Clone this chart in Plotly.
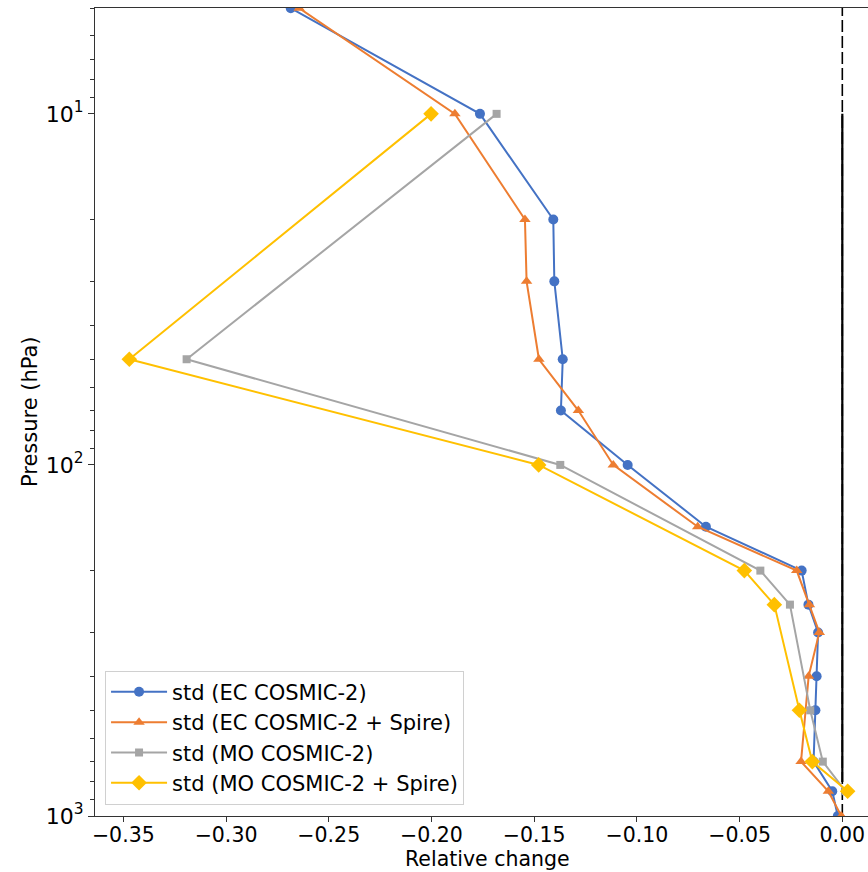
import plotly.graph_objects as go

# Pressure levels (hPa)
levels_ec = [5, 10, 20, 30, 50, 70, 100, 150, 200, 250, 300, 400, 500, 700, 850, 1000]
levels_ec_spire = [5, 10, 20, 30, 50, 70, 100, 150, 200, 250, 300, 400, 700, 850, 1000]
levels_mo = [10, 50, 100, 200, 250, 500, 700, 850]

# Relative change of the standard deviation
ec_c2 = [-0.2685, -0.1764, -0.1407, -0.1402, -0.1361, -0.1370, -0.1045, -0.0664,
         -0.0198, -0.0165, -0.0118, -0.0125, -0.0131, -0.0140, -0.0049, -0.0022]
ec_c2_spire = [-0.2644, -0.1886, -0.1545, -0.1537, -0.1477, -0.1285, -0.1115, -0.0704,
               -0.0222, -0.0160, -0.0112, -0.0164, -0.0201, -0.0068, -0.0005]
mo_c2 = [-0.1683, -0.3192, -0.1373, -0.0399, -0.0255, -0.0156, -0.0095, 0.0015]
mo_c2_spire = [-0.2002, -0.3471, -0.1478, -0.0477, -0.0331, -0.0209, -0.0146, 0.0026]

# Reference segment at zero change
zero_x = [0, 0]
zero_levels = [10, 800]

x_ticks = [-0.35, -0.30, -0.25, -0.20, -0.15, -0.10, -0.05, 0.00]
y_ticks = [10, 100, 1000]
y_ticktext = ["10<sup>1</sup>", "10<sup>2</sup>", "10<sup>3</sup>"]
y_minor = [m * 10 ** e for e in range(0, 3) for m in range(2, 10) if m * 10 ** e >= 5]

FONT = "DejaVu Sans"

fig = go.Figure()

# vertical zero line (dashed, full height) and solid segment
fig.add_vline(x=0, line=dict(color="black", width=1.6, dash="12px,4px"), layer="below")
fig.add_trace(go.Scatter(x=zero_x, y=zero_levels, mode="lines",
                         line=dict(color="black", width=2.2),
                         showlegend=False, hoverinfo="skip"))

series = [
    ("std (EC COSMIC-2)", ec_c2, levels_ec, "#4472C4", "circle", 10),
    ("std (EC COSMIC-2 + Spire)", ec_c2_spire, levels_ec_spire, "#ED7D31", "triangle-up", 10),
    ("std (MO COSMIC-2)", mo_c2, levels_mo, "#A5A5A5", "square", 8),
    ("std (MO COSMIC-2 + Spire)", mo_c2_spire, levels_mo, "#FFC000", "diamond", 12),
]
for name, xs, ys, color, symbol, size in series:
    fig.add_trace(go.Scatter(
        x=xs, y=ys, mode="lines+markers", name=name,
        line=dict(color=color, width=2),
        marker=dict(symbol=symbol, size=size, color=color, line=dict(width=0)),
        cliponaxis=True,
    ))

fig.update_layout(
    width=868, height=872,
    margin=dict(l=95, r=0, t=8, b=56),
    paper_bgcolor="white", plot_bgcolor="white",
    font=dict(family=FONT, size=21, color="black"),
    showlegend=True,
    legend=dict(
        x=0.013, y=0.014, xanchor="left", yanchor="bottom",
        bgcolor="rgba(255,255,255,0.85)", bordercolor="#d0d0d0", borderwidth=1,
        font=dict(family=FONT, size=21, color="black"),
        itemwidth=56, tracegroupgap=0,
    ),
)

fig.update_xaxes(
    range=[-0.3638, 0.0125],
    tickvals=x_ticks, tickformat=".2f",
    showgrid=False, zeroline=False,
    showline=True, linecolor="#333333", linewidth=1.3, mirror=True,
    ticks="outside", ticklen=5, tickwidth=1.2, tickcolor="#333333",
    ticklabelstandoff=-5,
    tickfont=dict(family=FONT, size=20.5, color="black"),
)
fig.update_yaxes(
    type="log", range=[3, 0.6985],
    tickvals=y_ticks, ticktext=y_ticktext,
    showgrid=False, zeroline=False,
    showline=True, linecolor="#333333", linewidth=1.3,
    ticks="outside", ticklen=6, tickwidth=1.2, tickcolor="#333333",
    tickfont=dict(family=FONT, size=22, color="black"),
    minor=dict(tickvals=y_minor, ticks="outside", ticklen=4, tickwidth=1, tickcolor="#333333",
               showgrid=False),
)

fig.add_annotation(text="Relative change", xref="paper", yref="paper",
                   x=0.5084, y=-0.0526, xanchor="center", yanchor="middle",
                   showarrow=False, font=dict(family=FONT, size=20.5, color="black"))
fig.add_annotation(text="Pressure (hPa)", xref="paper", yref="paper",
                   x=-0.084, y=0.5, xanchor="center", yanchor="middle", textangle=-90,
                   showarrow=False, font=dict(family=FONT, size=21, color="black"))

fig.write_html("out.html")
